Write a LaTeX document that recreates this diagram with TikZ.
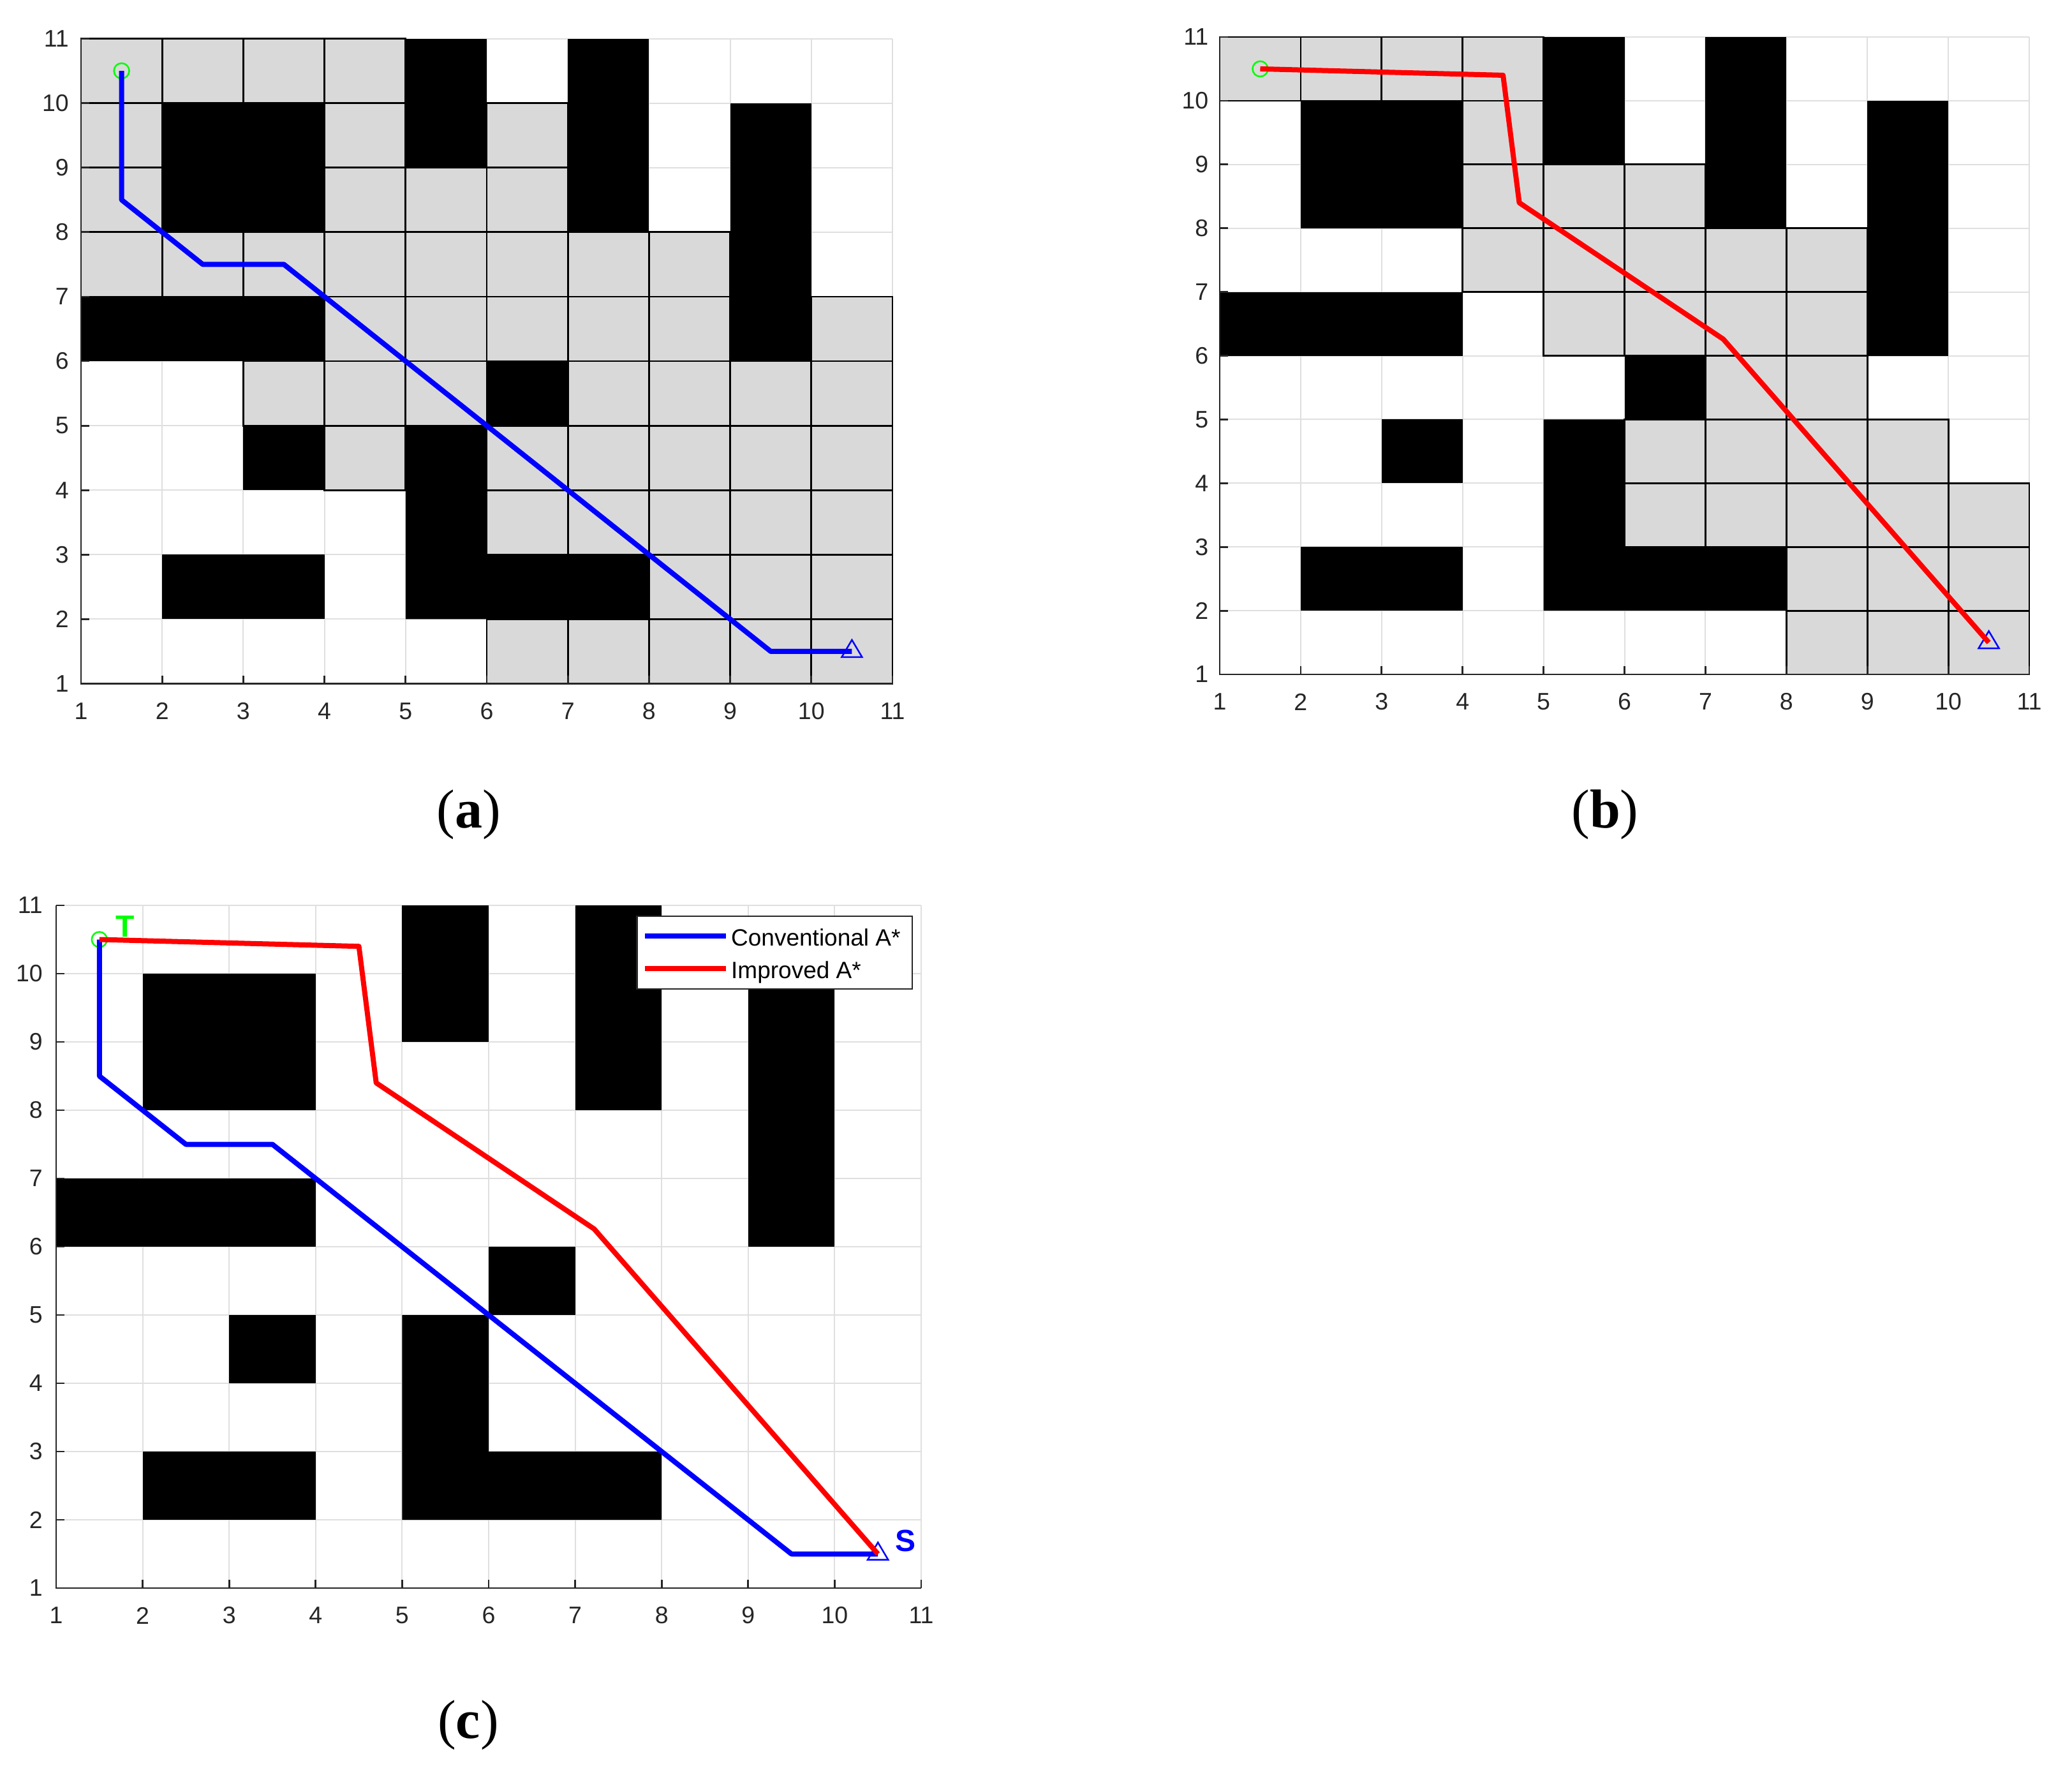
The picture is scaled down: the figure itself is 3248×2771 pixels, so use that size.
\documentclass[tikz,border=0pt]{standalone}
\usepackage{fontspec}
\setmainfont{Liberation Serif}
\newfontfamily\axfont{Liberation Sans}
\definecolor{gridgray}{RGB}{223,223,223}
\definecolor{cellgray}{RGB}{217,217,217}
\definecolor{axgray}{RGB}{38,38,38}
\definecolor{pblue}{RGB}{0,0,255}
\definecolor{pred}{RGB}{255,0,0}
\definecolor{pgreen}{RGB}{0,255,0}
\tikzset{
  gridline/.style={draw=gridgray, line width=2pt},
  graycell/.style={fill=cellgray, draw=black, line width=2.8pt},
  obst/.style={fill=black},
  axisline/.style={draw=axgray, line width=2.8pt},
  ticklab/.style={font=\axfont\fontsize{37.5}{40}\selectfont, text=axgray, inner sep=0pt},
  conv/.style={draw=pblue, line width=8pt, line join=round},
  impr/.style={draw=pred, line width=8pt, line join=round},
  startmk/.style={draw=pgreen, line width=2.5pt},
  goalmk/.style={draw=pblue, line width=2.5pt},
  legbox/.style={fill=white, draw=axgray, line width=2.5pt},
  legtext/.style={font=\axfont\fontsize{37}{40}\selectfont, text=black, inner sep=0pt, anchor=base west},
  caption/.style={font=\fontsize{86}{90}\selectfont, inner sep=0pt, anchor=base},
  marklab/.style={font=\axfont\bfseries\fontsize{48}{50}\selectfont, inner sep=0pt}
}
\newcommand\drawgridlines{%
  \foreach \k in {1,...,11} {
    \draw[gridline] (\k,1) -- (\k,11);
    \draw[gridline] (1,\k) -- (11,\k);
  }}
\newcommand\drawobstacles{%
  \fill[obst] (5,9) rectangle (6,11);
  \fill[obst] (7,8) rectangle (8,11);
  \fill[obst] (2,8) rectangle (4,10);
  \fill[obst] (9,6) rectangle (10,10);
  \fill[obst] (1,6) rectangle (4,7);
  \fill[obst] (6,5) rectangle (7,6);
  \fill[obst] (3,4) rectangle (4,5);
  \fill[obst] (2,2) rectangle (4,3);
  \fill[obst] (5,2) -- (8,2) -- (8,3) -- (6,3) -- (6,5) -- (5,5) -- cycle;}
\newcommand\drawaxes[2]{%
  \draw[axisline] (1,11) -- (1,1) -- (11,1);
  \foreach \k in {1,...,11} {
    \draw[axisline] (\k,1) -- ++(0pt,13pt);
    \draw[axisline] (1,\k) -- ++(13pt,0pt);
    \node[ticklab, anchor=center, yshift=-43pt] (#1x\k) at (\k,1) {\k};
    \node[ticklab, anchor=east, xshift=-#2] (#1y\k) at (1,\k) {\k};
  }}
\newcommand\startmarker{\draw[startmk] (1.5,10.5) circle[radius=12pt];}
\newcommand\goalmarker{\draw[goalmk] (10.5,1.5) ++(-16pt,-9pt) -- ++(32pt,0pt) -- ++(-16pt,27pt) -- cycle;}
\newcommand\convpath{\draw[conv] (1.5,10.5) -- (1.5,8.5) -- (2.5,7.5) -- (3.5,7.5) -- (9.5,1.5) -- (10.5,1.5);}
\newcommand\imprpath{\draw[impr] (1.5,10.5) -- (4.5,10.4) -- (4.7,8.4) -- (7.22,6.26) -- (10.5,1.5);}
\begin{document}
\begin{tikzpicture}[x=1pt,y=-1pt]
\fill[white] (0,0) rectangle (3248,2771);
\useasboundingbox (0,0) rectangle (3248,2771);

% ---------------- panel (a)
\begin{scope}[shift={(-0.2pt,-1172.6pt)}, x=127.2pt, y=101.1pt]
  \drawgridlines
  \foreach \cx/\cy in {1/10,2/10,3/10,4/10, 1/9,4/9,6/9, 1/8,4/8,5/8,6/8,
      1/7,2/7,3/7,4/7,5/7,6/7,7/7,8/7, 4/6,5/6,6/6,7/6,8/6,10/6,
      3/5,4/5,5/5,7/5,8/5,9/5,10/5, 4/4,6/4,7/4,8/4,9/4,10/4,
      6/3,7/3,8/3,9/3,10/3, 8/2,9/2,10/2, 6/1,7/1,8/1,9/1,10/1}
    \filldraw[graycell] (\cx,\cy) rectangle ++(1,1);
  \drawobstacles
  \drawaxes{a}{19pt}
  \startmarker
  \goalmarker
  \convpath
\end{scope}

% ---------------- panel (b)
\begin{scope}[shift={(1785.1pt,-1156.9pt)}, x=126.9pt, y=99.9pt]
  \drawgridlines
  \foreach \cx/\cy in {1/10,2/10,3/10,4/10, 4/9, 4/8,5/8,6/8,
      4/7,5/7,6/7,7/7,8/7, 5/6,6/6,7/6,8/6, 7/5,8/5,
      6/4,7/4,8/4,9/4, 6/3,7/3,8/3,9/3,10/3, 8/2,9/2,10/2, 8/1,9/1,10/1}
    \filldraw[graycell] (\cx,\cy) rectangle ++(1,1);
  \drawobstacles
  \drawaxes{b}{17.5pt}
  \startmarker
  \goalmarker
  \imprpath
\end{scope}

% ---------------- panel (c)
\begin{scope}[shift={(-47.6pt,-2596pt)}, x=135.6pt, y=107pt]
  \drawgridlines
  \drawobstacles
  \drawaxes{c}{21pt}
  \startmarker
  \goalmarker
  \convpath
  \imprpath
  \node[marklab, text=pgreen] (tlab) at (1.80,10.69) {T};
  \node[marklab, text=pblue] (slab) at (10.82,1.69) {S};
\end{scope}

% legend of (c)
\draw[legbox] (998.7,1436) rectangle (1430,1550);
\coordinate (lb1) at (1011,1467.3);
\coordinate (lb2) at (1138,1467.3);
\coordinate (lr1) at (1011,1518.3);
\coordinate (lr2) at (1138,1518.3);
\draw[draw=pblue, line width=8pt] (lb1) -- (lb2);
\draw[draw=pred, line width=8pt] (lr1) -- (lr2);
\node[legtext] (legc) at (1146,1482) {Conventional A*};
\node[legtext] (legi) at (1146,1533) {Improved A*};

% captions
\node[caption] (capa) at (735,1297) {(\textbf{a})};
\node[caption] (capb) at (2516,1297) {(\textbf{b})};
\node[caption] (capc) at (734,2724) {(\textbf{c})};
\end{tikzpicture}
\end{document}
